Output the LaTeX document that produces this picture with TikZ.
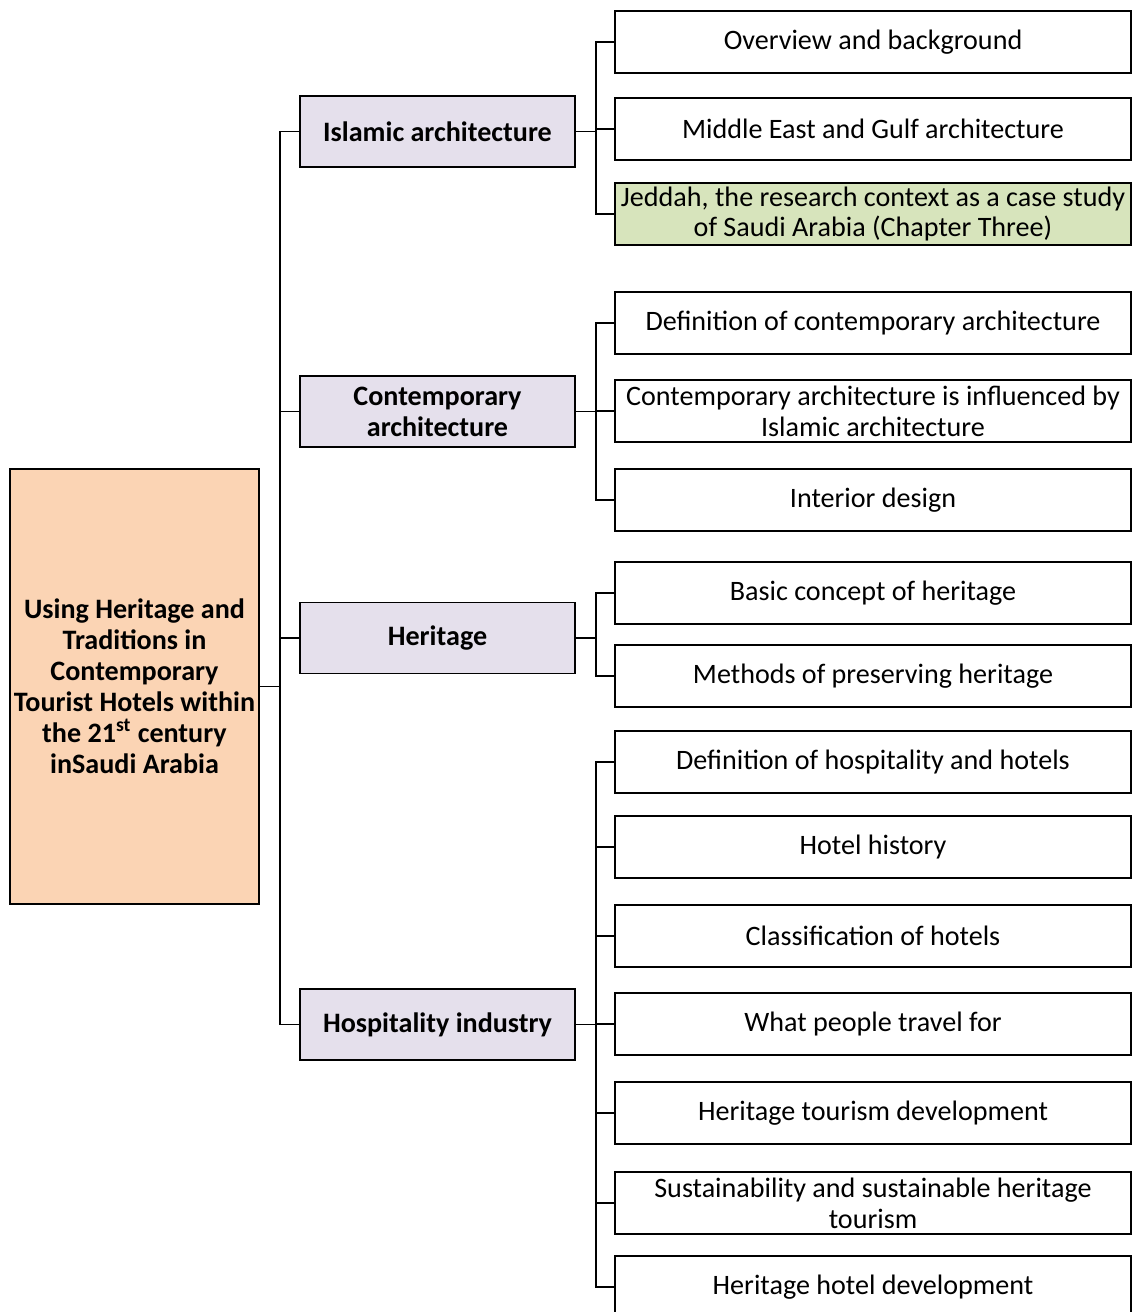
\documentclass[tikz,border=0pt]{standalone}
\usepackage{fontspec}
\setmainfont{Carlito}

%Defining fill colors
\definecolor{RootFill}{HTML}{FBD4B4}
\definecolor{TopicFill}{HTML}{E5E0EC}
\definecolor{CaseFill}{HTML}{D7E4BC}

\newcommand{\boxfont}{\fontsize{16pt}{17.6pt}\selectfont}

\tikzset{
  rootbox/.style={draw,line width=1.1pt,fill=RootFill,minimum width=4.98cm,minimum height=8.7cm,align=center,inner sep=0pt,font=\boxfont\bfseries},
  topicbox/.style={draw,line width=1.1pt,fill=TopicFill,minimum width=5.5cm,minimum height=1.42cm,align=center,font=\boxfont\bfseries},
  itembox/.style={draw,line width=1.1pt,fill=white,minimum width=10.32cm,minimum height=1.24cm,align=center,inner sep=1pt,font=\boxfont},
  link/.style={line width=1.1pt}
}

\begin{document}
\begin{tikzpicture}[x=0.02cm,y=-0.02cm]

\useasboundingbox (0,0) rectangle (1137,1312);

%Root topic
\node[rootbox] (root) at (134.5,686.5) {Using Heritage and\\Traditions in\\Contemporary\\Tourist Hotels within\\the 21\textsuperscript{st} century\\inSaudi Arabia};

%Main topics
\node[topicbox] (isl) at (437.5,131.5) {Islamic architecture};
\node[topicbox] (con) at (437.5,411.5) {Contemporary\\architecture};
\node[topicbox] (her) at (437.5,638) {Heritage};
\node[topicbox] (hos) at (437.5,1024.5) {Hospitality industry};

%Islamic architecture
\node[itembox] (ovw) at (873,42) {Overview and background};
\node[itembox] (mid) at (873,129) {Middle East and Gulf architecture};
\node[itembox,fill=CaseFill] (jed) at (873,214) {Jeddah, the research context as a case study\\of Saudi Arabia (Chapter Three)};

%Contemporary architecture
\node[itembox] (cdef) at (873,323) {Definition of contemporary architecture};
\node[itembox] (cinf) at (873,411) {Contemporary architecture is influenced by\\Islamic architecture};
\node[itembox] (cint) at (873,500) {Interior design};

%Heritage
\node[itembox] (hbas) at (873,593) {Basic concept of heritage};
\node[itembox] (hpre) at (873,676) {Methods of preserving heritage};

%Hospitality industry
\node[itembox] (pdef) at (873,762) {Definition of hospitality and hotels};
\node[itembox] (phis) at (873,847) {Hotel history};
\node[itembox] (pcla) at (873,936) {Classification of hotels};
\node[itembox] (ptra) at (873,1024) {What people travel for};
\node[itembox] (ptou) at (873,1113) {Heritage tourism development};
\node[itembox] (psus) at (873,1203) {Sustainability and sustainable heritage\\tourism};
\node[itembox] (phot) at (873,1287) {Heritage hotel development};

%Connectors
\foreach \t in {isl,con,her,hos}
  \draw[link] (root.east) -- ++(20,0) |- (\t.west);
\foreach \c in {ovw,mid,jed}
  \draw[link] (isl.east) -- ++(20,0) |- (\c.west);
\foreach \c in {cdef,cinf,cint}
  \draw[link] (con.east) -- ++(20,0) |- (\c.west);
\foreach \c in {hbas,hpre}
  \draw[link] (her.east) -- ++(20,0) |- (\c.west);
\foreach \c in {pdef,phis,pcla,ptra,ptou,psus,phot}
  \draw[link] (hos.east) -- ++(20,0) |- (\c.west);

\end{tikzpicture}
\end{document}
